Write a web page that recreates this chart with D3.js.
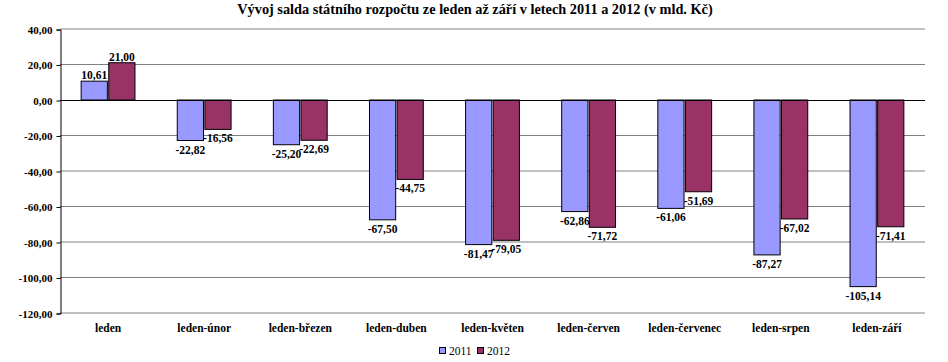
<!DOCTYPE html>
<html>
<head>
<meta charset="utf-8">
<script src="https://cdn.jsdelivr.net/npm/d3@7"></script>
<style>
  body { margin: 0; background: #fff; }
  text { font-family: "Liberation Serif", "Times New Roman", serif; }
</style>
</head>
<body>
<div id="chart"></div>
<script>
const categories = ['leden', 'leden-únor', 'leden-březen', 'leden-duben', 'leden-květen',
  'leden-červen', 'leden-červenec', 'leden-srpen', 'leden-září'];
const seriesNames = ['2011', '2012'];
const values2011 = [10.61, -22.82, -25.20, -67.50, -81.47, -62.86, -61.06, -87.27, -105.14];
const values2012 = [21.00, -16.56, -22.69, -44.75, -79.05, -71.72, -51.69, -67.02, -71.41];
const yTicks = [40, 20, 0, -20, -40, -60, -80, -100, -120];

const width = 948;
const height = 362;
const plot = { left: 60, right: 925, top: 29, bottom: 313 };
const colors = ['#9999ff', '#993366'];
const fmt = (v) => d3.format('.2f')(v).replace('.', ',').replace('−', '-');

const svg = d3.select('#chart').append('svg')
  .attr('width', width)
  .attr('height', height);

// title
svg.append('text')
  .attr('x', 475).attr('y', 14)
  .attr('text-anchor', 'middle')
  .style('font-size', '14.3px')
  .style('font-weight', 'bold')
  .text('Vývoj salda státního rozpočtu ze leden až září v letech 2011 a 2012 (v mld. Kč)');

const y = d3.scaleLinear().domain([-120, 40]).range([plot.bottom, plot.top]);
const x0 = d3.scaleBand().domain(categories).range([plot.left, plot.right]).paddingInner(0.44).paddingOuter(0.22);
const x1 = d3.scaleBand().domain(seriesNames).range([0, x0.bandwidth()]).paddingInner(0.05);

// gridlines
svg.append('g').selectAll('line')
  .data(yTicks.filter((d) => d !== 0))
  .join('line')
  .attr('x1', plot.left).attr('x2', plot.right)
  .attr('y1', (d) => y(d)).attr('y2', (d) => y(d))
  .attr('stroke', '#808080').attr('stroke-width', 1);

// y axis
const yAxis = svg.append('g')
  .attr('transform', `translate(${plot.left + 0.5},0.5)`)
  .call(d3.axisLeft(y).tickValues(yTicks).tickSize(4).tickFormat(fmt));
yAxis.select('.domain').attr('stroke', '#000');
yAxis.selectAll('text')
  .attr('x', -8)
  .style('font-family', '"Liberation Serif", serif')
  .style('font-size', '11px')
  .style('font-weight', 'bold')
  .attr('fill', '#000');

const data = categories.map((c, i) => ({ cat: c, vals: [values2011[i], values2012[i]] }));

const groups = svg.append('g').selectAll('g')
  .data(data)
  .join('g')
  .attr('transform', (d) => `translate(${x0(d.cat)},0)`);

groups.selectAll('rect')
  .data((d) => d.vals.map((v, j) => ({ key: seriesNames[j], v, j })))
  .join('rect')
  .attr('x', (d) => x1(d.key))
  .attr('width', x1.bandwidth())
  .attr('y', (d) => y(Math.max(0, d.v)))
  .attr('height', (d) => Math.abs(y(d.v) - y(0)))
  .attr('fill', (d) => colors[d.j])
  .attr('stroke', '#000')
  .attr('stroke-width', 1);

groups.selectAll('text')
  .data((d) => d.vals.map((v, j) => ({ key: seriesNames[j], v, j })))
  .join('text')
  .attr('x', (d) => x1(d.key) + x1.bandwidth() / 2)
  .attr('y', (d) => d.v >= 0 ? y(d.v) - 2 : y(d.v) + 13)
  .attr('text-anchor', 'middle')
  .style('font-size', '11.5px')
  .style('font-weight', 'bold')
  .text((d) => fmt(d.v));

// zero line
svg.append('line')
  .attr('x1', plot.left).attr('x2', plot.right)
  .attr('y1', Math.round(y(0)) + 0.5).attr('y2', Math.round(y(0)) + 0.5)
  .attr('stroke', '#000');

// category labels
svg.append('g').selectAll('text')
  .data(categories)
  .join('text')
  .attr('x', (d) => x0(d) + x0.bandwidth() / 2)
  .attr('y', 332)
  .attr('text-anchor', 'middle')
  .style('font-size', '11.5px')
  .style('font-weight', 'bold')
  .text((d) => d);

// legend
const legend = svg.append('g').attr('transform', 'translate(439,347)');
const items = legend.selectAll('g')
  .data(seriesNames)
  .join('g')
  .attr('transform', (d, i) => `translate(${i * 38},0)`);
items.append('rect')
  .attr('x', 0.5).attr('y', 0.5)
  .attr('width', 6).attr('height', 6)
  .attr('fill', (d, i) => colors[i])
  .attr('stroke', '#000');
items.append('text')
  .attr('x', 10).attr('y', 8)
  .style('font-size', '11.5px')
  .text((d) => d);
</script>
</body>
</html>
